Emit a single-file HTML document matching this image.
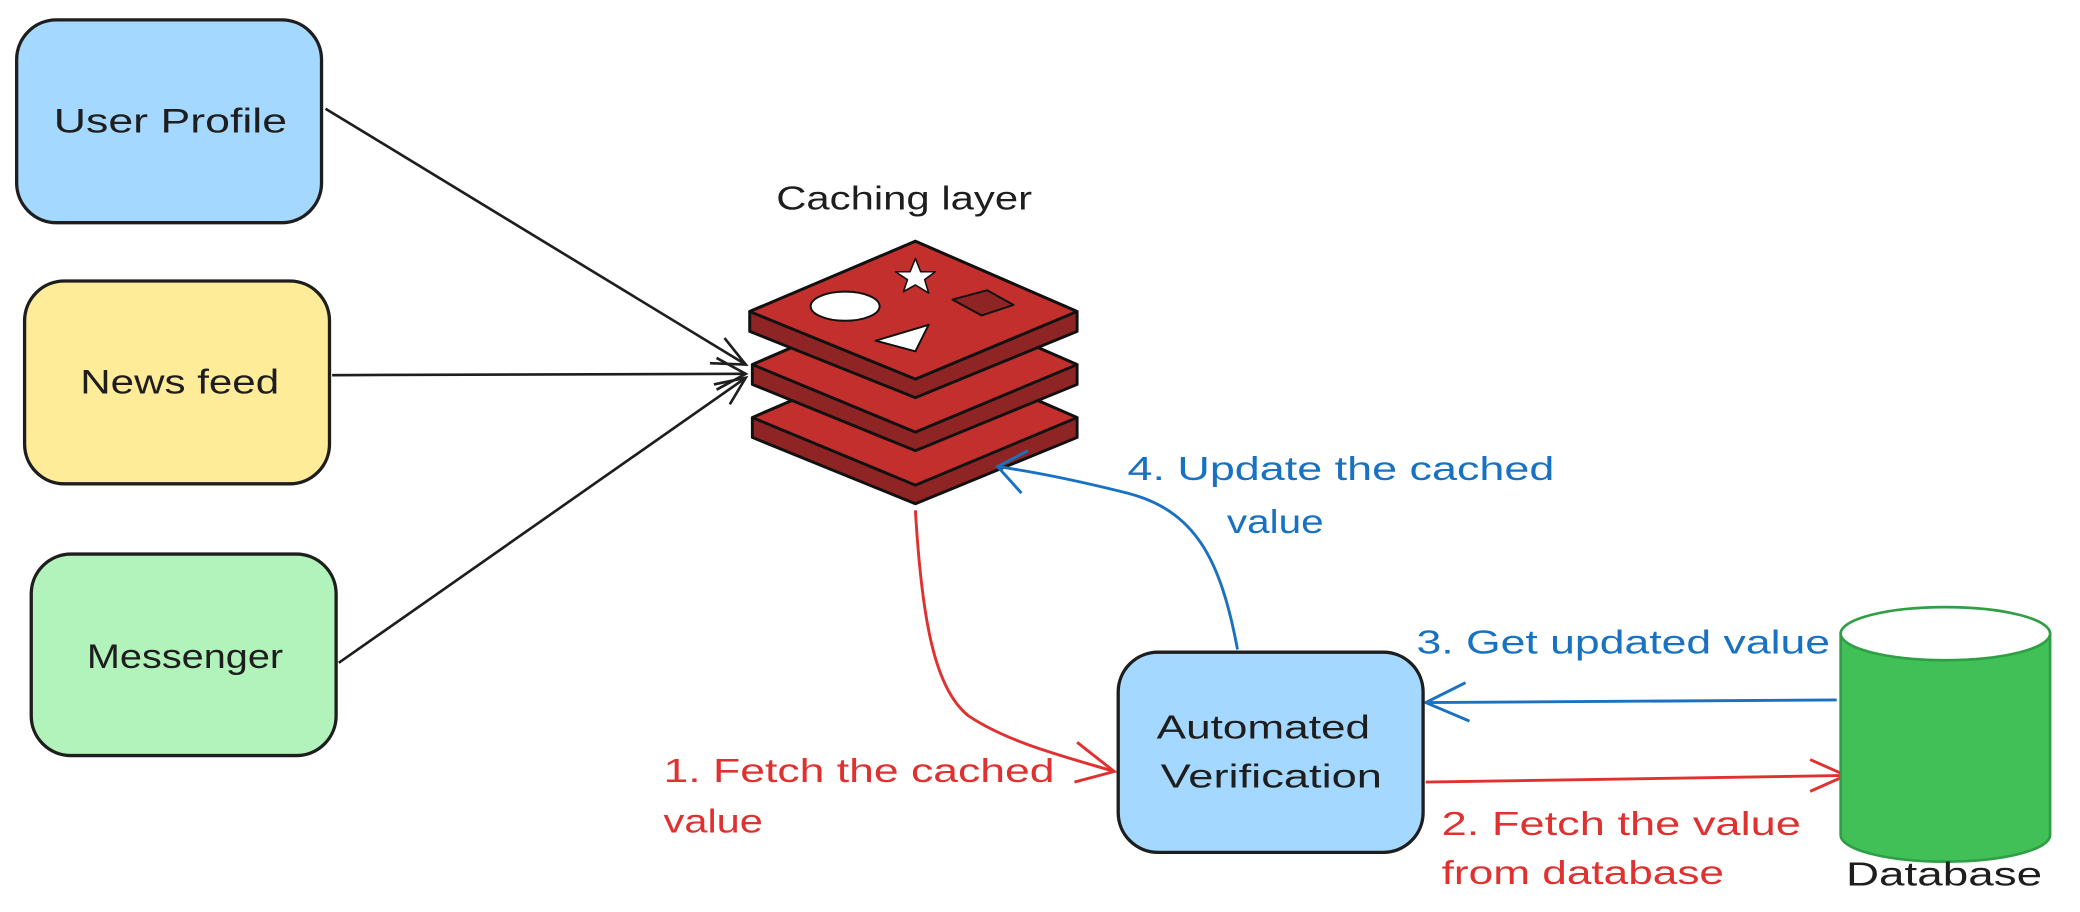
<!DOCTYPE html>
<html><head><meta charset="utf-8"><style>
html,body{margin:0;padding:0;background:#fff;}
svg{display:block;}
text{font-family:"Liberation Sans","DejaVu Sans",sans-serif;}
</style></head><body>
<svg width="2080" height="912" viewBox="0 0 1568 688" xmlns="http://www.w3.org/2000/svg">
<!-- boxes -->
<rect x="12" y="15" width="230" height="153" rx="30" fill="#a5d8ff" stroke="#1e1e1e" stroke-width="2.5"/>
<text x="40" y="100" font-size="26" textLength="176" lengthAdjust="spacingAndGlyphs" fill="#1e1e1e">User Profile</text>
<rect x="18" y="212" width="230" height="153" rx="30" fill="#ffec99" stroke="#1e1e1e" stroke-width="2.5"/>
<text x="60" y="297" font-size="26" textLength="150" lengthAdjust="spacingAndGlyphs" fill="#1e1e1e">News feed</text>
<rect x="23" y="418" width="230" height="152" rx="30" fill="#b2f2bb" stroke="#1e1e1e" stroke-width="2.5"/>
<text x="65" y="504" font-size="26" textLength="148" lengthAdjust="spacingAndGlyphs" fill="#1e1e1e">Messenger</text>
<!-- black arrows -->
<g stroke="#1e1e1e" stroke-width="2" fill="none">
<line x1="245" y1="82" x2="562" y2="275"/><path d="M535,274 L562,275 L546,255"/>
<line x1="250" y1="283" x2="562" y2="282"/><path d="M540,270 L562,282 L540,294"/>
<line x1="255" y1="500" x2="562" y2="285"/><path d="M538,290 L562,285 L550,305"/>
</g>
<text x="585" y="158" font-size="25" textLength="193" lengthAdjust="spacingAndGlyphs" fill="#1e1e1e">Caching layer</text>
<!-- redis stack -->
<g stroke="#111" stroke-width="2.2" stroke-linejoin="round">
<path d="M567,315 L690,262 L812,315 L812,330 L690,380 L567,330 Z" fill="#8e2424"/>
<path d="M567,315 L690,262 L812,315 L690,366 Z" fill="#c22f2c"/>
<path d="M567,275 L690,222 L812,275 L812,290 L690,340 L567,290 Z" fill="#8e2424"/>
<path d="M567,275 L690,222 L812,275 L690,326 Z" fill="#c22f2c"/>
<path d="M565,235 L690,182 L812,235 L812,250 L690,300 L565,250 Z" fill="#8e2424"/>
<path d="M565,235 L690,182 L812,235 L690,286 Z" fill="#c22f2c"/>
<ellipse cx="637" cy="231" rx="26" ry="11" fill="#fff" stroke-width="1.5"/>
<path d="M660,257 L700,245 L690,265 Z" fill="#fff" stroke-width="1.5"/>
<path d="M690,195 L694,205 L705,205 L697,211 L700,221 L690,215 L681,220 L684,211 L675,205 L686,205 Z" fill="#fff" stroke-width="1.2"/>
<path d="M718,226 L744,219 L764,230 L740,238 Z" fill="#8e2424" stroke-width="1.5"/>
</g>
<!-- red arrows -->
<g stroke="#e03131" stroke-width="2.2" fill="none">
<path d="M690,385 C695,470 705,520 730,540 C760,560 800,570 840,582"/>
<path d="M812,560 L840,582 L810,590"/>
<line x1="1075" y1="590" x2="1392" y2="585"/>
<path d="M1365,573 L1392,585 L1365,597"/>
</g>
<text x="500" y="590" font-size="25" textLength="295" lengthAdjust="spacingAndGlyphs" fill="#e03131">1. Fetch the cached</text>
<text x="500" y="628" font-size="25" textLength="75" lengthAdjust="spacingAndGlyphs" fill="#e03131">value</text>
<text x="1087" y="630" font-size="25" textLength="271" lengthAdjust="spacingAndGlyphs" fill="#e03131">2. Fetch the value</text>
<text x="1087" y="667" font-size="25" textLength="213" lengthAdjust="spacingAndGlyphs" fill="#e03131">from database</text>
<!-- blue arrows -->
<g stroke="#1971c2" stroke-width="2.2" fill="none">
<line x1="1385" y1="528" x2="1075" y2="530"/>
<path d="M1105,515 L1075,530 L1108,544"/>
<path d="M933,490 C920,420 900,385 850,372 C810,362 780,356 752,352"/>
<path d="M775,340 L752,352 L770,372"/>
</g>
<text x="1068" y="493" font-size="25" textLength="312" lengthAdjust="spacingAndGlyphs" fill="#1971c2">3. Get updated value</text>
<text x="850" y="362" font-size="25" textLength="322" lengthAdjust="spacingAndGlyphs" fill="#1971c2">4. Update the cached</text>
<text x="925" y="402" font-size="25" textLength="73" lengthAdjust="spacingAndGlyphs" fill="#1971c2">value</text>
<!-- automated verification -->
<rect x="843" y="492" width="230" height="151" rx="30" fill="#a5d8ff" stroke="#1e1e1e" stroke-width="2.5"/>
<text x="872" y="557" font-size="25" textLength="161" lengthAdjust="spacingAndGlyphs" fill="#1e1e1e">Automated</text>
<text x="875" y="594" font-size="25" textLength="167" lengthAdjust="spacingAndGlyphs" fill="#1e1e1e">Verification</text>
<!-- database -->
<path d="M1388,478 L1388,630 A79,20 0 0 0 1546,630 L1546,478 Z" fill="#40c057" stroke="#2f9e44" stroke-width="2"/>
<ellipse cx="1467" cy="478" rx="79" ry="20" fill="#fff" stroke="#2f9e44" stroke-width="2"/>
<text x="1392" y="668" font-size="25" textLength="148" lengthAdjust="spacingAndGlyphs" fill="#1e1e1e">Database</text>
</svg>
</body></html>
